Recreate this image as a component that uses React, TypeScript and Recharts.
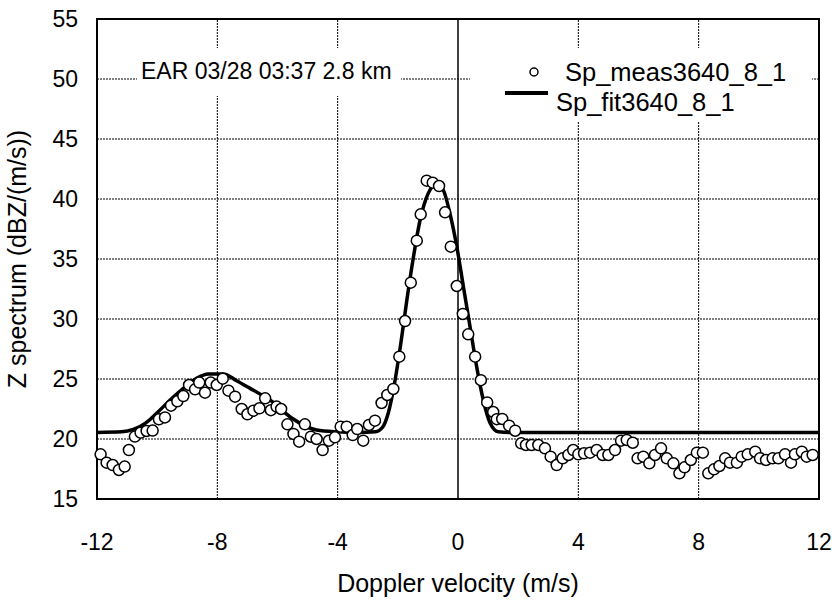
import {
  ComposedChart,
  Scatter,
  Line,
  XAxis,
  YAxis,
  CartesianGrid,
  ReferenceLine,
  ReferenceArea,
} from "recharts";

const FONT = "'Liberation Sans', Arial, sans-serif";

// measured spectrum (circles)
const measVelocity = [
  -11.88, -11.68, -11.48, -11.27, -11.08, -10.94, -10.74, -10.55, -10.35, -10.15,
  -9.94, -9.74, -9.54, -9.33, -9.13, -8.94, -8.74, -8.6, -8.41, -8.22,
  -8.02, -7.82, -7.63, -7.41, -7.19, -7.0, -6.8, -6.6, -6.41, -6.22,
  -6.03, -5.88, -5.67, -5.47, -5.28, -5.09, -4.89, -4.7, -4.5, -4.29,
  -4.09, -3.9, -3.7, -3.5, -3.35, -3.15, -2.96, -2.76, -2.54, -2.35,
  -2.15, -1.95, -1.76, -1.57, -1.37, -1.24, -1.04, -0.84, -0.63, -0.43,
  -0.24, -0.04, 0.16, 0.34, 0.57, 0.76, 0.97, 1.17, 1.29, 1.47,
  1.7, 1.9, 2.1, 2.26, 2.45, 2.67, 2.89, 3.08, 3.28, 3.48,
  3.67, 3.83, 4.0, 4.19, 4.39, 4.61, 4.81, 5.0, 5.22, 5.42,
  5.61, 5.81, 5.97, 6.16, 6.36, 6.55, 6.75, 6.94, 7.16, 7.36,
  7.53, 7.74, 7.94, 8.14, 8.32, 8.51, 8.69, 8.88, 9.04, 9.27,
  9.43, 9.63, 9.88, 10.04, 10.24, 10.46, 10.65, 10.87, 11.07, 11.2,
  11.43, 11.59, 11.79,
];
const measSpectrum = [
  18.72, 18.03, 17.83, 17.42, 17.7, 19.08, 20.2, 20.53, 20.67, 20.7,
  21.64, 21.8, 22.78, 23.14, 23.58, 24.5, 24.14, 24.7, 23.86, 24.7,
  24.5, 25.03, 24.03, 23.53, 22.5, 22.06, 22.36, 22.56, 23.39, 22.4,
  22.7, 22.5, 21.22, 20.42, 19.78, 21.22, 20.19, 20.0, 19.08, 19.86,
  20.14, 21.03, 21.03, 20.33, 20.83, 19.86, 21.17, 21.53, 23.0, 23.67,
  24.17, 26.86, 29.83, 33.03, 36.53, 38.72, 41.53, 41.36, 41.08, 38.89,
  36.03, 32.75, 30.42, 28.72, 26.86, 24.9, 23.05, 22.25, 21.65, 21.67,
  21.11, 20.69, 19.64, 19.5, 19.5, 19.5, 19.22, 18.53, 17.83, 18.39,
  18.67, 19.08, 18.72, 18.81, 18.86, 19.08, 18.67, 18.67, 19.08, 19.86,
  19.92, 19.69, 18.39, 18.53, 17.97, 18.67, 19.22, 18.39, 17.97, 17.14,
  17.64, 18.25, 18.86, 18.86, 17.14, 17.47, 17.75, 18.39, 18.03, 18.03,
  18.53, 18.72, 18.94, 18.39, 18.25, 18.39, 18.39, 18.72, 18.03, 18.72,
  18.94, 18.53, 18.67,
];

// fitted spectrum (thick line)
const fitVelocity = [
  -12, -11.18, -10.79, -10.4, -10.02, -9.57, -9.13, -8.69, -8.3, -7.8,
  -7.36, -6.91, -6.47, -6.03, -5.81, -5.25, -4.7, -4.03, -3.3, -2.75,
  -2.5, -2.32, -2.09, -1.9, -1.7, -1.48, -1.26, -0.99, -0.71, -0.49,
  -0.27, -0.04, 0.18, 0.4, 0.62, 0.84, 1.07, 1.34, 1.7, 12,
];
const fitSpectrum = [
  20.55, 20.6, 20.8, 21.3, 22.14, 23.25, 24.22, 25.06, 25.42, 25.42,
  24.86, 24.22, 23.58, 22.83, 22.3, 21.3, 20.75, 20.6, 20.55, 20.6,
  21.0, 22.14, 24.92, 27.97, 31.58, 35.19, 38.25, 40.47, 41.25, 40.75,
  38.81, 36.03, 32.69, 29.36, 26.03, 23.25, 21.31, 20.6, 20.55, 20.55,
];

const xTicks = [-12, -8, -4, 0, 4, 8, 12];
const yTicks = [15, 20, 25, 30, 35, 40, 45, 50, 55];
const titleText = "EAR 03/28 03:37 2.8 km";
const measName = "Sp_meas3640_8_1";
const fitName = "Sp_fit3640_8_1";

const measData = measVelocity.map((x, i) => ({ x, y: measSpectrum[i] }));
const fitData = fitVelocity.map((x, i) => ({ x, y: fitSpectrum[i] }));

const Circle = (props: any) => (
  <circle cx={props.cx} cy={props.cy} r={5.5} fill="#fff" stroke="#000" strokeWidth={1.5} />
);

const XTick = ({ x, payload }: any) => (
  <text x={x} y={542} textAnchor="middle" dominantBaseline="central" fontSize={23} fontFamily={FONT} fill="#000">
    {payload.value}
  </text>
);

const YTick = ({ y, payload }: any) => (
  <text x={78} y={y} textAnchor="end" dominantBaseline="central" fontSize={23} fontFamily={FONT} fill="#000">
    {payload.value}
  </text>
);

export default function App() {
  return (
    <div style={{ position: "absolute", left: 0, top: 0, width: 832, height: 603, background: "#fff" }}>
      <ComposedChart width={832} height={603} margin={{ top: 19, right: 13, bottom: 0, left: 0 }}>
        <CartesianGrid vertical={false} stroke="#000" strokeDasharray="2 1" />
        <XAxis
          type="number"
          dataKey="x"
          domain={[-12, 12]}
          ticks={xTicks}
          height={104}
          tickLine={false}
          axisLine={false}
          tick={<XTick />}
        />
        <YAxis
          type="number"
          dataKey="y"
          domain={[15, 55]}
          ticks={yTicks}
          width={97}
          tickLine={false}
          axisLine={false}
          tick={<YTick />}
        />
        {[-8, -4, 4, 8].map((v) => (
          <ReferenceLine key={v} x={v} stroke="#000" strokeDasharray="2 1" />
        ))}
        <ReferenceLine x={0} stroke="#000" strokeWidth={1.5} />
        <ReferenceArea x1={-12} x2={12} y1={15} y2={55} fill="none" stroke="#000" strokeWidth={2} />
        <Line
          data={fitData}
          dataKey="y"
          type="monotone"
          stroke="#000"
          strokeWidth={3.5}
          dot={false}
          isAnimationActive={false}
        />
        <Scatter data={measData} dataKey="y" shape={<Circle />} isAnimationActive={false} />
        <text x={458} y={583} textAnchor="middle" dominantBaseline="central" fontSize={25} fontFamily={FONT}>
          Doppler velocity (m/s)
        </text>
        <text
          x={17}
          y={259}
          transform="rotate(-90, 17, 259)"
          textAnchor="middle"
          dominantBaseline="central"
          fontSize={25}
          fontFamily={FONT}
        >
          Z spectrum (dBZ/(m/s))
        </text>
      </ComposedChart>
      <svg
        width={832}
        height={603}
        style={{ position: "absolute", left: 0, top: 0, pointerEvents: "none" }}
      >
        <rect x={137} y={48} width={264} height={48} fill="#fff" />
        <text x={141} y={71} dominantBaseline="central" fontSize={23} fontFamily={FONT}>
          {titleText}
        </text>
        <rect x={470} y={48} width={342} height={74} fill="#fff" />
        <circle cx={534} cy={72} r={4} fill="#fff" stroke="#000" strokeWidth={1.5} />
        <text x={565} y={72} dominantBaseline="central" fontSize={25.5} fontFamily={FONT}>
          {measName}
        </text>
        <line x1={505} y1={93} x2={548} y2={93} stroke="#000" strokeWidth={4} />
        <text x={556} y={102} dominantBaseline="central" fontSize={25.5} fontFamily={FONT}>
          {fitName}
        </text>
      </svg>
    </div>
  );
}
